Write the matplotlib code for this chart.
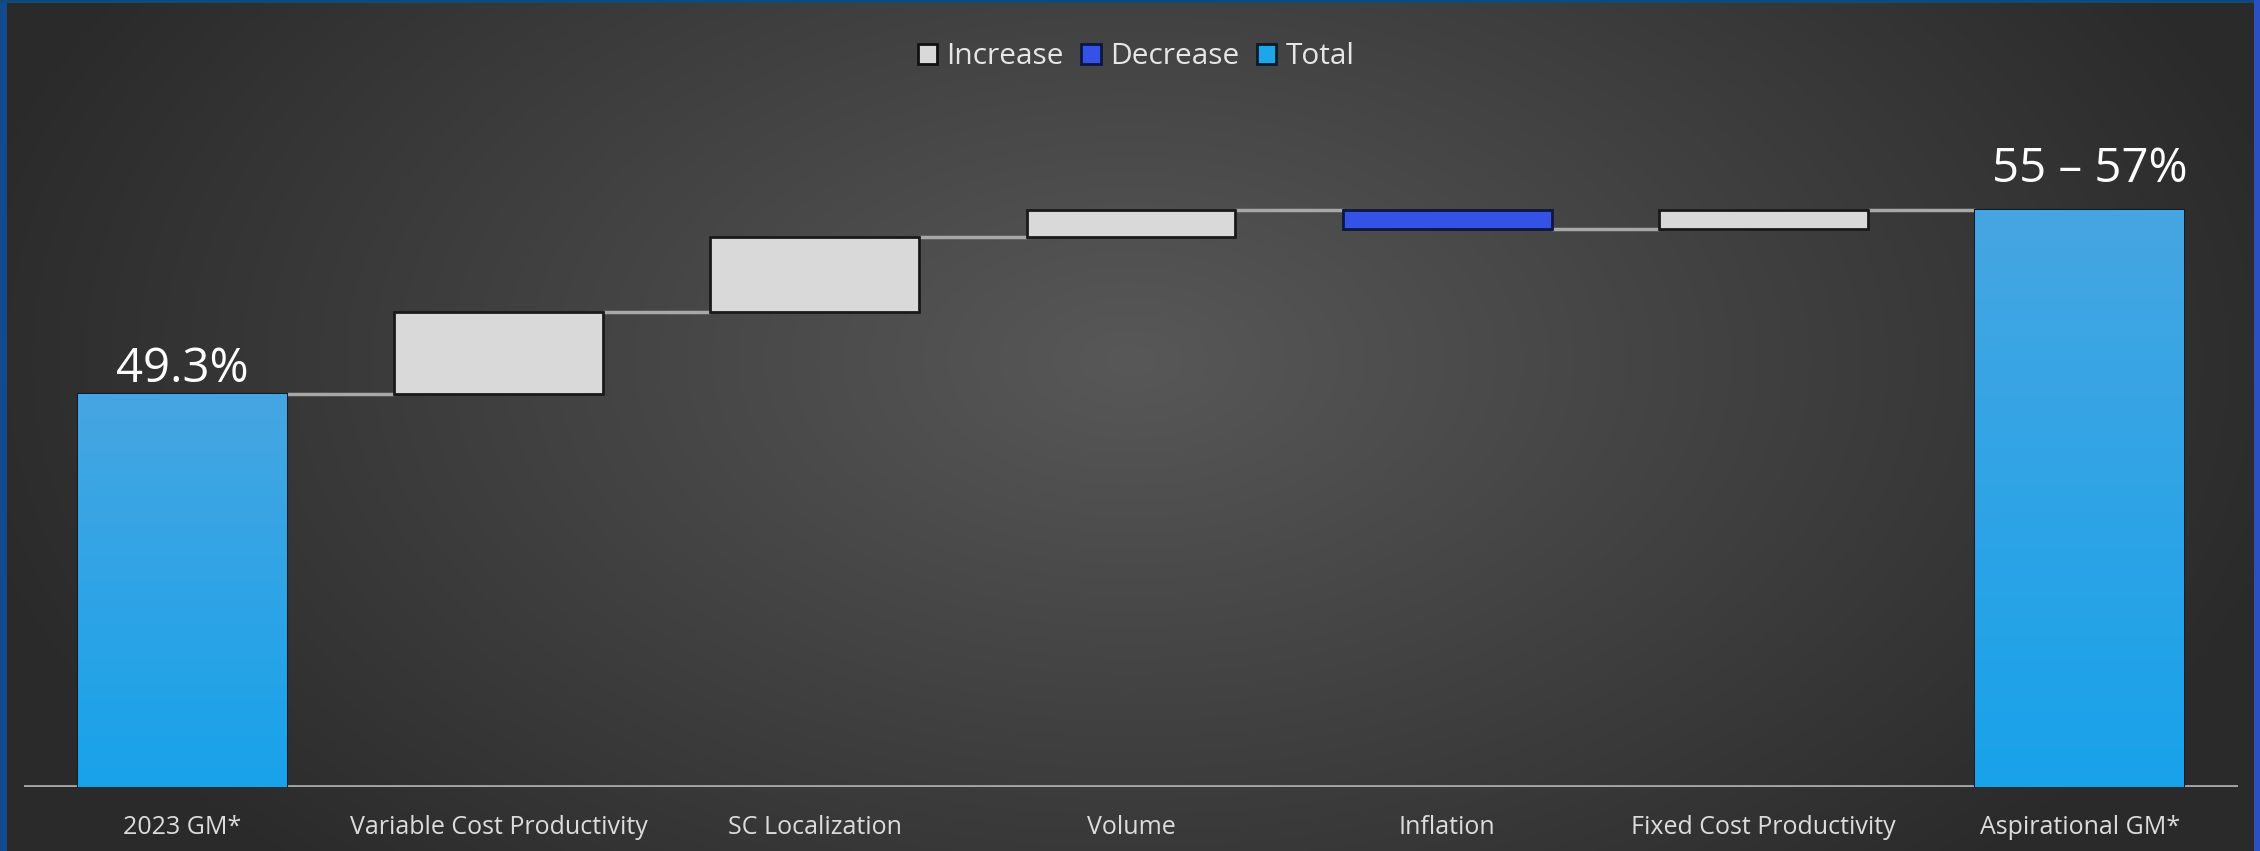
import numpy as np
import matplotlib
matplotlib.use("Agg")
import matplotlib.pyplot as plt
from matplotlib.patches import Patch, Rectangle

plt.rcParams['font.family'] = ['Open Sans', 'DejaVu Sans']

# ─── DATA ────────────────────────────────────────────────────────────────────
categories = ["2023 GM*", "Variable Cost Productivity", "SC Localization",
              "Volume", "Inflation", "Fixed Cost Productivity", "Aspirational GM*"]
kinds  = ["total", "delta", "delta", "delta", "delta", "delta", "total"]
values = [49.3, 3.0, 2.7, 1.0, -0.7, 0.7, 56.0]
value_labels = {0: "49.3%", 6: "55 – 57%"}
legend_names = ["Increase", "Decrease", "Total"]

# ─── STYLE ───────────────────────────────────────────────────────────────────
W, H = 2260, 851
Y_MIN, Y_MAX = 35, 60
BAR_W = 0.66
C_INC, C_DEC = '#d9d9d9', '#3452e6'
C_TOT_TOP, C_TOT_BOT = '#46a6e2', '#18a2ea'
C_EDGE_INC, C_EDGE_DEC, C_EDGE_TOT = '#1a1a1a', '#0d1640', '#0c1a2a'
C_CONN = '#a8a8a8'
C_TEXT = '#dcdcdc'

fig = plt.figure(figsize=(W / 100, H / 100), dpi=100)

# radial grey background
bg = fig.add_axes([0, 0, 1, 1], zorder=-10)
yy, xx = np.mgrid[0:H, 0:W]
r = np.sqrt(((xx - 1130) / 1200.0) ** 2 + ((yy - 360) / 720.0) ** 2)
g = 0.165 + (0.345 - 0.165) * np.clip(1 - r, 0, 1) ** 1.0
bg.imshow(np.dstack([g, g, g]), extent=[0, W, H, 0], aspect='auto', interpolation='bilinear')
bg.set_xlim(0, W); bg.set_ylim(H, 0); bg.axis('off')

# blue frame
for (x0, y0, w, h, c) in [(0, 0, 7, H, '#134a8e'), (0, 0, W, 3, '#0e4a7e'),
                          (W - 6, 0, 6, H, '#2b50c4')]:
    fig.add_artist(Rectangle((x0 / W, 1 - (y0 + h) / H), w / W, h / H,
                             transform=fig.transFigure, color=c, lw=0, zorder=5))

# ─── MAIN AXES ───────────────────────────────────────────────────────────────
ax = fig.add_axes([24 / W, (H - 787) / H, (2238 - 24) / W, 687 / H])
ax.set_facecolor('none')

x = np.arange(len(categories))
level = 0.0
ends = []
grad = np.linspace(0, 1, 256).reshape(-1, 1)
tot_cmap = matplotlib.colors.LinearSegmentedColormap.from_list('tot', [C_TOT_BOT, C_TOT_TOP])
for i, (k, v) in enumerate(zip(kinds, values)):
    if k == "total":
        bar = ax.bar(x[i], v - Y_MIN, bottom=Y_MIN, width=BAR_W, color=C_TOT_BOT,
                     edgecolor=C_EDGE_TOT, linewidth=1.5, zorder=3)[0]
        im = ax.imshow(grad, cmap=tot_cmap, origin='lower', aspect='auto', zorder=3,
                       extent=[x[i] - BAR_W / 2, x[i] + BAR_W / 2, Y_MIN, v])
        im.set_clip_path(bar)
        level = v
    else:
        c, ec = (C_INC, C_EDGE_INC) if v >= 0 else (C_DEC, C_EDGE_DEC)
        ax.bar(x[i], v, bottom=level, width=BAR_W, color=c, edgecolor=ec,
               linewidth=2, zorder=3)
        level += v
    ends.append(level)

# connectors
for i in range(len(categories) - 1):
    ax.plot([x[i] + BAR_W / 2, x[i + 1] - BAR_W / 2], [ends[i], ends[i]],
            color=C_CONN, lw=2.5, zorder=2, solid_capstyle='butt')

ax.set_aspect('auto')
ax.set_xlim(-0.5, len(categories) - 0.5)
ax.set_ylim(Y_MIN, Y_MAX)

# value labels on the totals
for i, txt in value_labels.items():
    off = 0.05 if i == 0 else 0.6
    ax.text(x[i] + (0 if i == 0 else 0.03), values[i] + off, txt, ha='center', va='bottom',
            color='white', fontsize=34)

# baseline + ticks
ax.axhline(Y_MIN, color='#a4a4a4', lw=3.5, zorder=1)
for sp in ax.spines.values():
    sp.set_visible(False)
ax.set_yticks([])
ax.set_xticks(x)
ax.set_xticklabels(categories, color=C_TEXT, fontsize=18)
ax.tick_params(axis='x', length=0, pad=20)

# legend
handles = [Patch(facecolor=C_INC, edgecolor='#111111', lw=2),
           Patch(facecolor=C_DEC, edgecolor='#0d1640', lw=2),
           Patch(facecolor='#1ea6ea', edgecolor='#0c1a2a', lw=2)]
fig.legend(handles, legend_names, loc='center', bbox_to_anchor=(1136 / W, 1 - 57 / H),
           ncol=3, frameon=False, fontsize=21.5, labelcolor='#e6e6e6',
           handlelength=0.65, handleheight=0.65, handletextpad=0.3, columnspacing=0.6)

fig.savefig('out.png', dpi=100)
